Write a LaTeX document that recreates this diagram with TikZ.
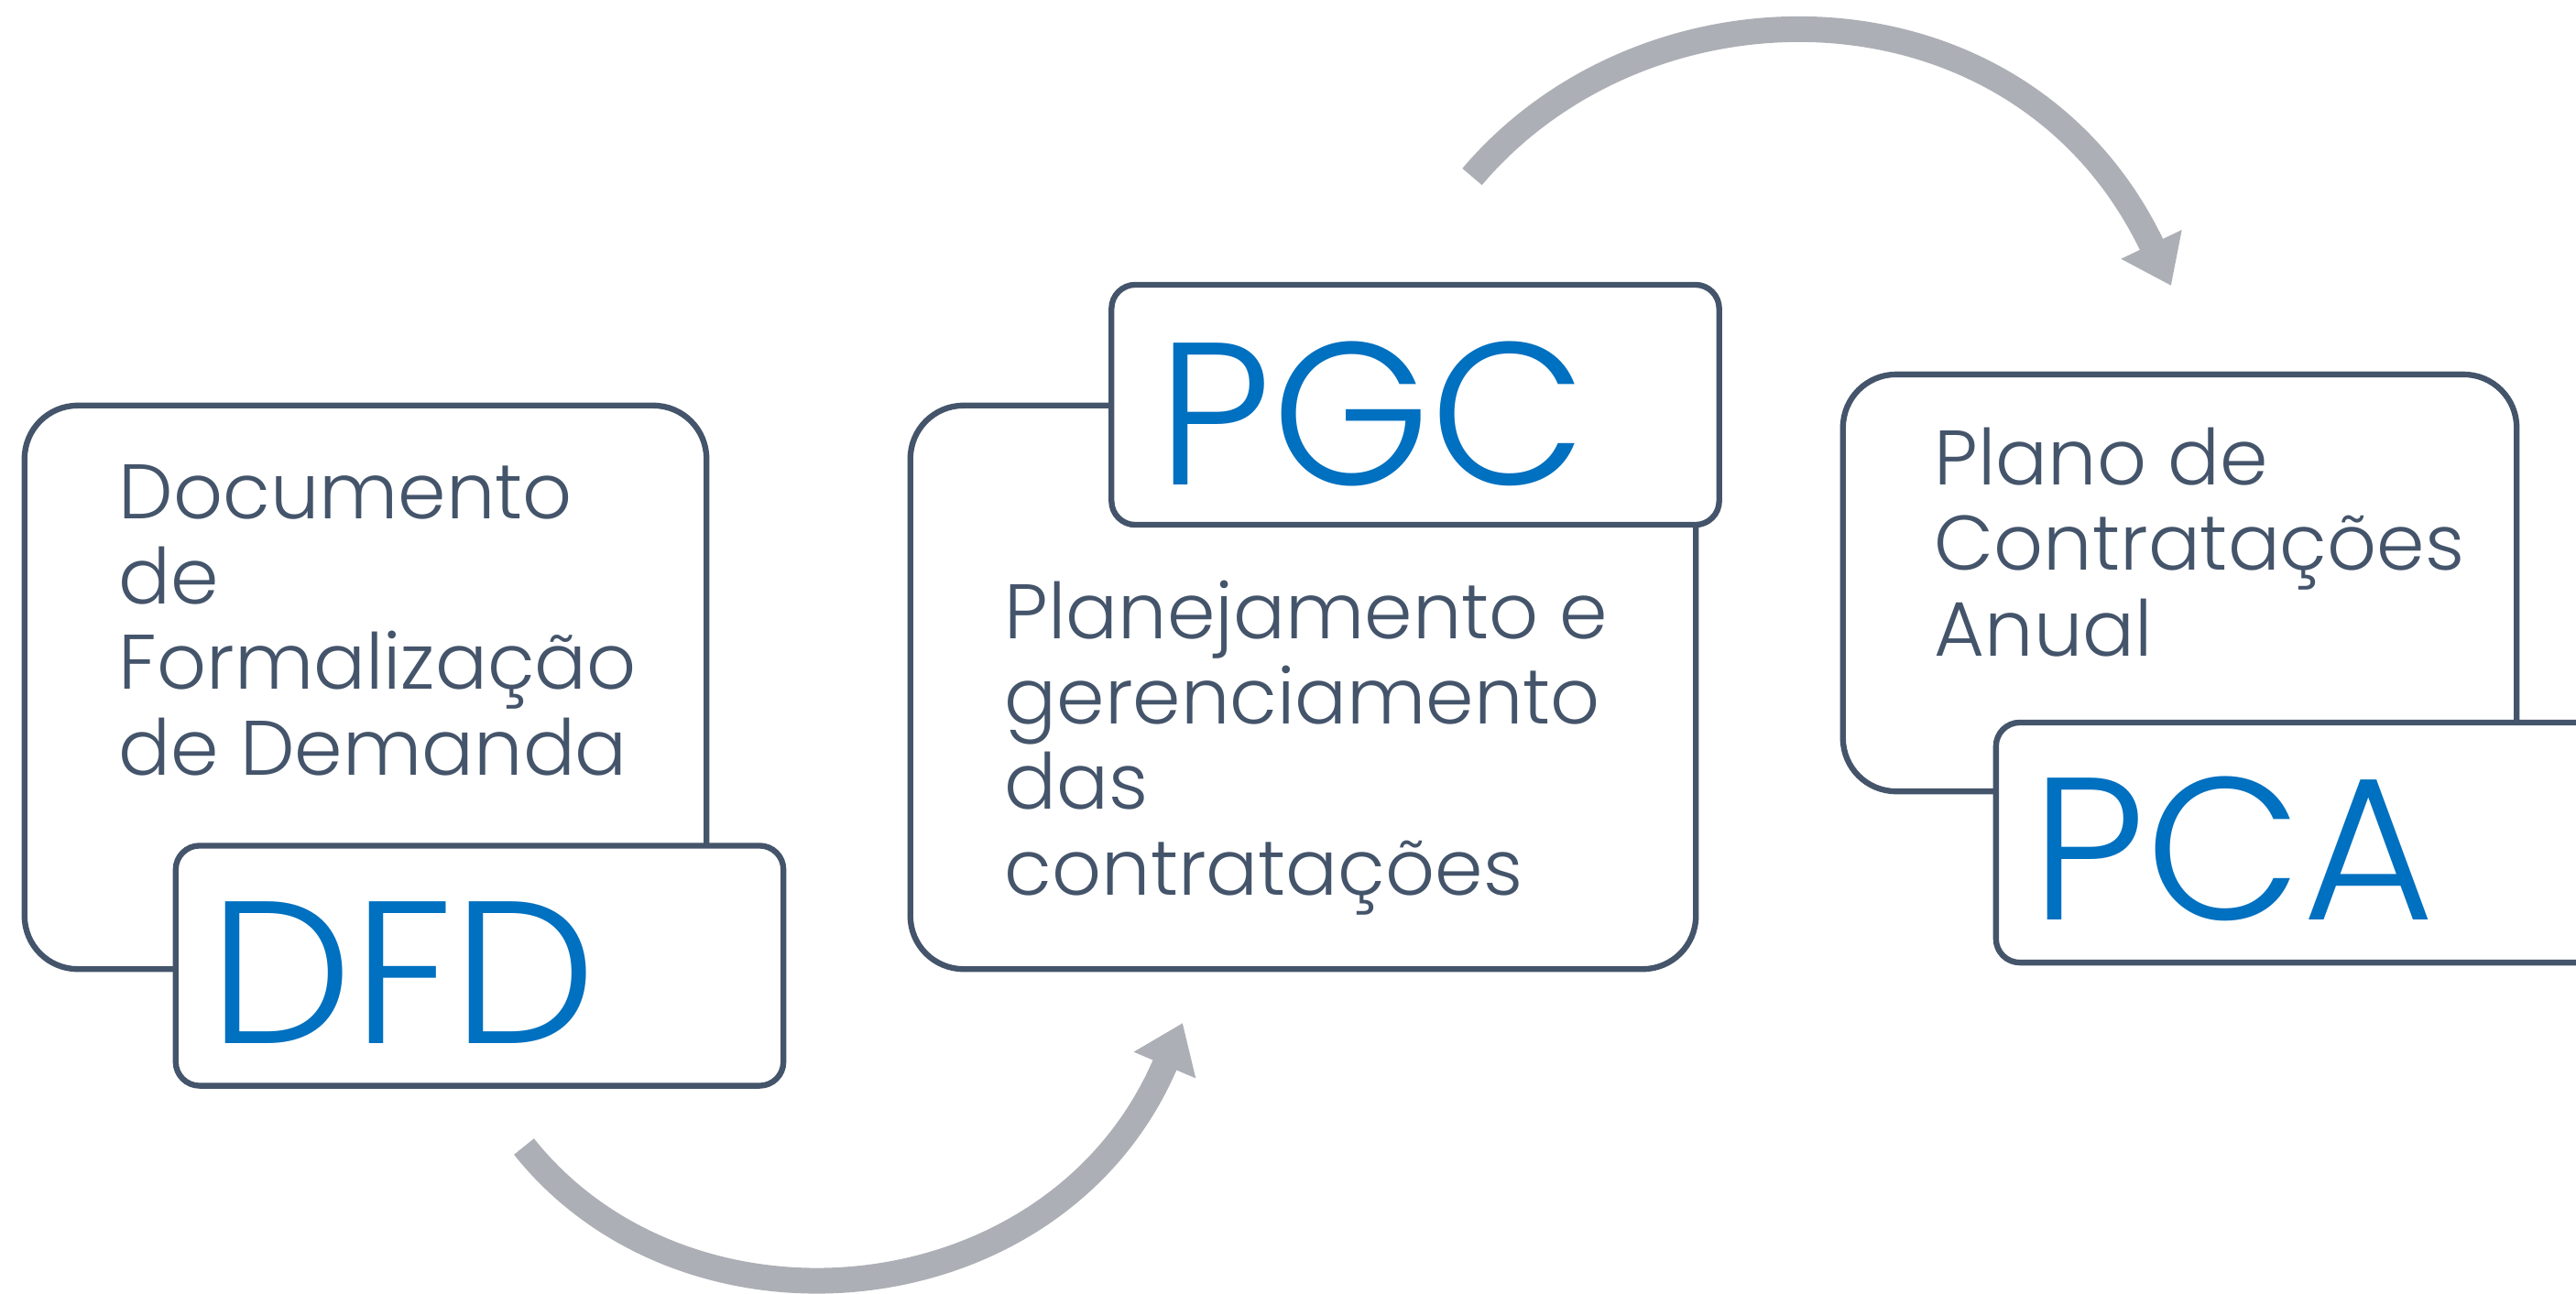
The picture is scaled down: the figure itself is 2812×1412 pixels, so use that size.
\documentclass[tikz,border=0pt]{standalone}
\usepackage{fontspec}
\setmainfont{Poppins}[UprightFont=* Light]
\usetikzlibrary{arrows.meta}

\definecolor{cinza}{HTML}{44546A}
\definecolor{azul}{HTML}{0070C0}
\definecolor{seta}{HTML}{ADAFB6}

\tikzset{
  caixa/.style={draw=cinza, line width=1.8pt, fill=white, rounded corners=0.58cm},
  rotulo/.style={draw=cinza, line width=1.8pt, fill=white, rounded corners=0.26cm,
    minimum width=6.63cm, minimum height=2.62cm},
  texto/.style={text=cinza, align=left, anchor=base west, inner sep=0pt,
    font=\fontsize{24}{26.5}\selectfont},
  sigla/.style={text=azul, anchor=base west, inner sep=0pt,
    font=\fontsize{63}{70}\selectfont},
  fluxo/.style={draw=seta, line width=0.28cm, -{Triangle[length=0.5cm, width=0.7cm]}}
}

\begin{document}
\begin{tikzpicture}[x=0.01cm, y=-0.01cm]

  \clip (0,0) rectangle (2812,1412);

  % Caixas grandes
  \node[caixa, minimum width=7.44cm, minimum height=6.15cm] (caixa1) at (399,750.5) {};
  \node[caixa, minimum width=8.57cm, minimum height=6.15cm] (caixa2) at (1422.5,750.5) {};
  \node[caixa, minimum width=7.35cm, minimum height=4.55cm] (caixa3) at (2379.5,636.5) {};

  % Caixas das siglas
  \node[rotulo] (dfd) at (523.5,1054.5) {};
  \node[rotulo] (pgc) at (1545,442) {};
  \node[rotulo] (pca) at (2510.5,920) {};

  % Textos (ancorados na ultima linha)
  \node[texto] (txt1) at (129,846) {Documento\\de\\Formalização\\de Demanda};
  \node[texto] (txt2) at (1096,977) {Planejamento e\\gerenciamento\\das\\contratações};
  \node[texto] (txt3) at (2111,716) {Plano de\\Contratações\\Anual};

  \node[sigla] (sdfd) at (228,1139) {DFD};
  \node[sigla] (spgc) at (1263,529) {PGC};
  \node[sigla] (spca) at (2217,1004) {PCA};

  % Setas
  \coordinate (ini1) at (572,1252);
  \coordinate (fim1) at (1291,1117);
  \coordinate (ini2) at (1607,193);
  \coordinate (fim2) at (2370,312);

  \draw[fluxo] (ini1) .. controls (752,1478) and (1154,1439) .. (fim1);
  \draw[fluxo] (ini2) .. controls (1801,-36) and (2207,-30) .. (fim2);

\end{tikzpicture}
\end{document}
